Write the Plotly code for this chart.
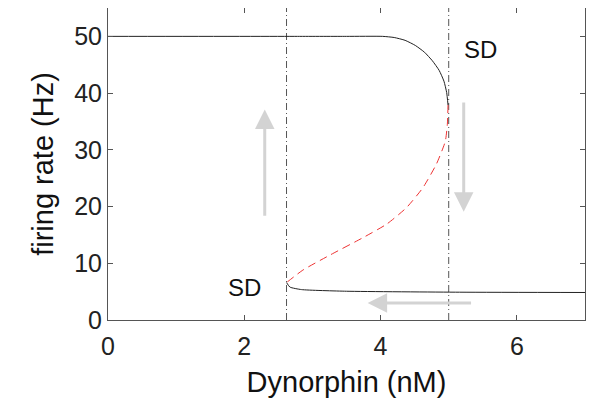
import plotly.graph_objects as go

# Upper stable branch (black)
upper_x = [0.0, 2.78, 3.5, 4.03, 4.20, 4.36, 4.51, 4.645, 4.76, 4.86, 4.93, 4.97, 4.99]
upper_y = [50.0, 50.0, 50.0, 50.0, 49.8, 49.3, 48.4, 47.2, 45.7, 44.0, 42.1, 40.1, 37.9]

# Unstable branch (red dashed)
unstable_x = [4.99, 4.98, 4.95, 4.82, 4.62, 4.38, 4.09, 3.74, 3.25, 2.86, 2.62]
unstable_y = [37.9, 34.5, 31.5, 27.5, 23.3, 19.8, 16.9, 14.5, 11.4, 8.8, 6.6]

# Lower stable branch (black)
lower_x = [2.62, 2.67, 2.84, 3.5, 5.16, 7.0]
lower_y = [6.6, 5.8, 5.36, 5.07, 4.9, 4.85]

# Saddle-node bifurcation points
sd_x = [2.62, 5.0]

# Arrows: (tail x, tail y, head x, head y)
arrow_tail_x = [2.30, 5.22, 5.35]
arrow_tail_y = [18.1, 38.6, 3.0]
arrow_head_x = [2.30, 5.22, 3.81]
arrow_head_y = [37.1, 19.1, 3.0]

# SD labels
sd_label_x = [2.01, 5.46]
sd_label_y = [5.7, 47.7]

x_ticks = [0, 2, 4, 6]
y_ticks = [0, 10, 20, 30, 40, 50]

fig = go.Figure()

for xv in sd_x:
    fig.add_trace(go.Scatter(x=[xv, xv], y=[0, 55], mode="lines",
                             line=dict(color="#555555", width=1, dash="7px,3px,1px,3px"),
                             hoverinfo="skip"))

fig.add_trace(go.Scatter(x=upper_x, y=upper_y, mode="lines",
                         line=dict(color="#222222", width=1, shape="spline", smoothing=0.5)))
fig.add_trace(go.Scatter(x=unstable_x, y=unstable_y, mode="lines",
                         line=dict(color="#ee3333", width=1, shape="spline", smoothing=0.5,
                                   dash="8px,5px")))
fig.add_trace(go.Scatter(x=lower_x, y=lower_y, mode="lines",
                         line=dict(color="#222222", width=1, shape="spline", smoothing=0.5)))

for tx, ty, hx, hy in zip(arrow_tail_x, arrow_tail_y, arrow_head_x, arrow_head_y):
    fig.add_annotation(x=hx, y=hy, ax=tx, ay=ty, xref="x", yref="y", axref="x", ayref="y",
                       showarrow=True, arrowhead=2, arrowsize=1.3, arrowwidth=3,
                       arrowcolor="#d3d3d3", text="")

for lx, ly in zip(sd_label_x, sd_label_y):
    fig.add_annotation(x=lx, y=ly, xref="x", yref="y", text="SD", showarrow=False,
                       font=dict(size=24, color="#111111"))

axis_common = dict(showline=True, linecolor="#555555", linewidth=1, mirror="allticks",
                   ticks="inside", ticklen=5, tickcolor="#555555", showgrid=False,
                   zeroline=False, automargin=False,
                   tickfont=dict(size=25, color="#222222"))

fig.update_xaxes(range=[0, 7], tickvals=x_ticks, ticklabelstandoff=4,
                 title=dict(text="Dynorphin (nM)", font=dict(size=29, color="#111111"), standoff=12),
                 **axis_common)
fig.update_yaxes(range=[0, 55], tickvals=y_ticks,
                 title=dict(text="firing rate (Hz)", font=dict(size=29, color="#111111"), standoff=12),
                 **axis_common)

fig.update_layout(width=586, height=400, showlegend=False,
                  margin=dict(l=100, r=9, t=0, b=88),
                  plot_bgcolor="white", paper_bgcolor="white",
                  font=dict(family="Liberation Sans, Arial, sans-serif"))

fig.write_html("out.html")
